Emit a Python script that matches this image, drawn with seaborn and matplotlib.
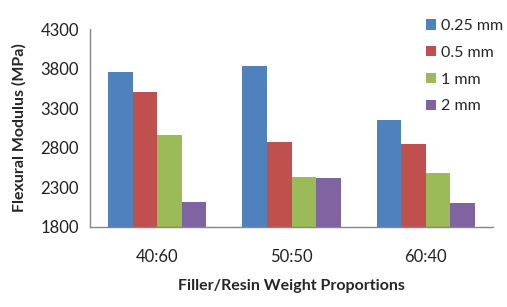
import pandas as pd
import matplotlib
matplotlib.use('Agg')
import matplotlib.pyplot as plt
import seaborn as sns

sns.set_style('white')
plt.rcParams['font.family'] = ['Lato', 'DejaVu Sans']

# values
proportions = ['40:60', '50:50', '60:40']
sizes = ['0.25 mm', '0.5 mm', '1 mm', '2 mm']
mod_025 = [3757, 3833, 3151]
mod_05 = [3505, 2874, 2848]
mod_1 = [2962, 2431, 2482]
mod_2 = [2116, 2419, 2103]
colors = ['#4F81BD', '#C0504D', '#9BBB59', '#8064A2']

rows = []
for size, vals in zip(sizes, [mod_025, mod_05, mod_1, mod_2]):
    for p, v in zip(proportions, vals):
        rows.append({'prop': p, 'size': size, 'mod': v})
df = pd.DataFrame(rows)

fig = plt.figure(figsize=(5.07, 3.07), dpi=100)
ax = fig.add_axes([0.1775, 0.2606, 0.795, 0.6449])

sns.barplot(data=df, x='prop', y='mod', hue='size', order=proportions,
            hue_order=sizes, palette=colors, width=0.73, saturation=1,
            errorbar=None, ax=ax)
for p in ax.patches:
    p.set_edgecolor('none')

ax.set_ylim(1800, 4300)
ax.set_yticks([1800, 2300, 2800, 3300, 3800, 4300])
ax.set_xlim(-0.5, 2.5)
ax.set_xticks([0, 1, 2])
ax.set_xticklabels(proportions)
ax.set_xticks([-0.5, 0.5, 1.5, 2.5], minor=True)
ax.tick_params(axis='x', which='major', length=0, pad=16, labelsize=12, labelcolor='#222222')
ax.tick_params(axis='x', which='minor', length=5, width=1, color='#868686', direction='out')
ax.tick_params(axis='y', length=5, width=1, color='#868686', direction='out',
               labelsize=12, labelcolor='#222222', pad=3)

for s in ['top', 'right']:
    ax.spines[s].set_visible(False)
for s in ['left', 'bottom']:
    ax.spines[s].set_color('#868686')
    ax.spines[s].set_linewidth(1)

ax.set_xlabel('Filler/Resin Weight Proportions', fontsize=11.5, fontweight='bold', labelpad=10)
ax.set_ylabel('Flexural Modulus (MPa)', fontsize=11.5, fontweight='bold', labelpad=10)

leg = ax.legend(loc='upper left', bbox_to_anchor=(0.834, 1.05), frameon=False,
                fontsize=11.5, handlelength=0.6, handleheight=0.6,
                handletextpad=0.35, labelspacing=0.8, borderaxespad=0, borderpad=0)

plt.savefig('out.png', dpi=100)
